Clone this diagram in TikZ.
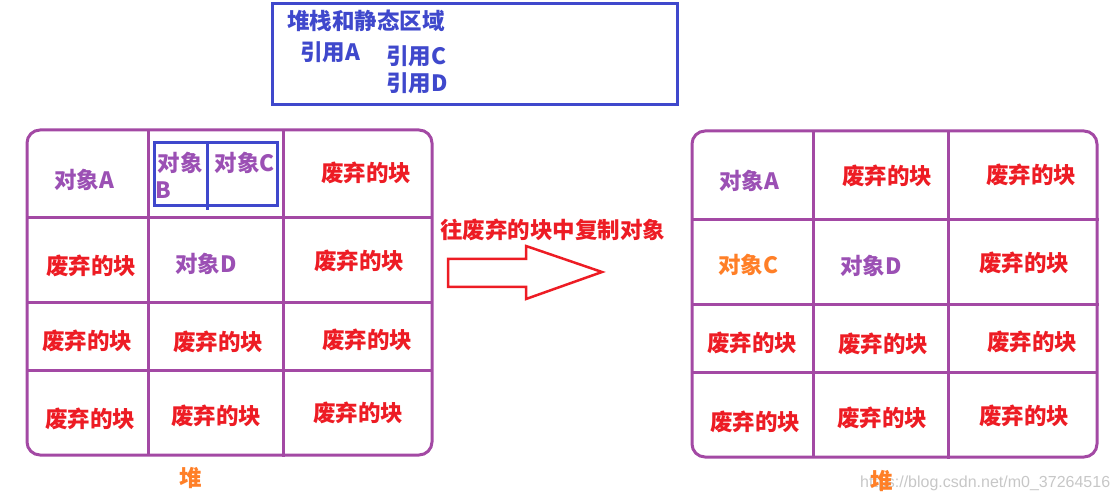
\documentclass[tikz,border=0pt]{standalone}
\usepackage{fontspec}
\newfontfamily\cjk{Noto Sans CJK SC}
\newfontfamily\wmfont{Liberation Sans}
\definecolor{pline}{RGB}{163,73,164}
\definecolor{bline}{RGB}{63,72,204}
\definecolor{rtext}{RGB}{237,28,36}
\definecolor{otext}{RGB}{255,127,39}
\definecolor{ptext}{RGB}{155,80,180}
\tikzset{
  lab/.style={inner sep=0pt, font=\cjk\bfseries\fontsize{22.5}{25}\selectfont},
  dead/.style={lab, text=rtext},
  obj/.style={lab, text=ptext},
  objo/.style={lab, text=otext},
  reftxt/.style={lab, text=bline},
  grid/.style={draw=pline, line width=3pt},
}
\begin{document}
\begin{tikzpicture}[x=1pt,y=-1pt]
\useasboundingbox (0,0) rectangle (1118,502);
% top box
\draw[bline, line width=3pt] (272,4) rectangle (677,105);
\node[reftxt, anchor=west] (title) at (287,21) {堆栈和静态区域};
\node[reftxt, anchor=west] (refA) at (300,52) {引用A};
\node[reftxt, anchor=west] (refC) at (386,56) {引用C};
\node[reftxt, anchor=west] (refD) at (386,83) {引用D};
% left grid
\draw[grid, rounded corners=13pt] (27,130) rectangle (432,455);
\draw[grid] (148,130) -- (148,455) (283,130) -- (283,457);
\draw[grid] (27,218) -- (432,218) (27,303) -- (432,303) (27,370) -- (432,370);
\draw[bline, line width=3pt] (154,143) rectangle (277,206);
\draw[bline, line width=3pt] (207,143) -- (207,210);
\node[obj] (lA) at (84,180) {对象A};
\node[obj] (lB1) at (180,163) {对象};
\node[obj] (lB2) at (163,190) {B};
\node[obj] (lC) at (245,163) {对象C};
\node[dead] (l13) at (366,173) {废弃的块};
\node[dead] (l21) at (91,266) {废弃的块};
\node[obj] (lD) at (206,264) {对象D};
\node[dead] (l23) at (359,261) {废弃的块};
\node[dead] (l31) at (87,341) {废弃的块};
\node[dead] (l32) at (218,342) {废弃的块};
\node[dead] (l33) at (367,340) {废弃的块};
\node[dead] (l41) at (90,419) {废弃的块};
\node[dead] (l42) at (216,416) {废弃的块};
\node[dead] (l43) at (358,413) {废弃的块};
\node[objo] (heapL) at (191,478) {堆};
% arrow
\node[dead, anchor=west] (copy) at (440,230) {往废弃的块中复制对象};
\draw[rtext, line width=2.5pt, line join=miter]
  (448,259) -- (526,259) -- (526,246) -- (602,272) -- (526,299) -- (526,287) -- (448,287) -- cycle;
% right grid
\draw[grid, rounded corners=13pt] (692,131) rectangle (1097,457);
\draw[grid] (813,131) -- (813,457) (948,131) -- (948,459);
\draw[grid] (692,220) -- (1099,220) (692,305) -- (1099,305) (692,372) -- (1097,372);
\node[obj] (rA) at (749,181) {对象A};
\node[dead] (r12) at (887,176) {废弃的块};
\node[dead] (r13) at (1031,175) {废弃的块};
\node[objo] (rC) at (748,265) {对象C};
\node[obj] (rD) at (871,266) {对象D};
\node[dead] (r23) at (1024,263) {废弃的块};
\node[dead] (r31) at (752,343) {废弃的块};
\node[dead] (r32) at (883,344) {废弃的块};
\node[dead] (r33) at (1032,342) {废弃的块};
\node[dead] (r41) at (755,422) {废弃的块};
\node[dead] (r42) at (882,418) {废弃的块};
\node[dead] (r43) at (1024,416) {废弃的块};
\node[inner sep=0pt, anchor=west, text=black!22, font=\wmfont\fontsize{16}{18}\selectfont] (wm) at (860,483) {https://blog.csdn.net/m0\_37264516};
\node[objo] (heapR) at (882,481) {堆};
\end{tikzpicture}
\end{document}
